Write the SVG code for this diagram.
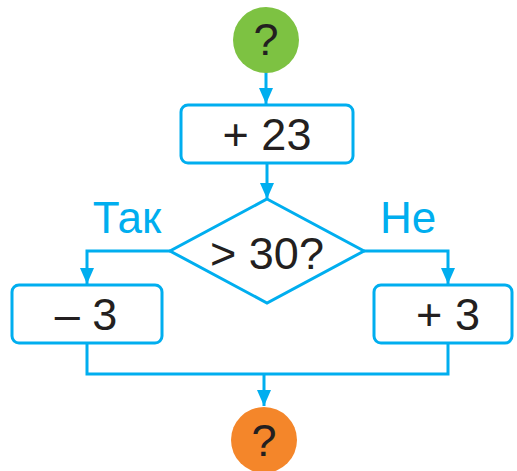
<svg xmlns="http://www.w3.org/2000/svg" width="517" height="471" viewBox="0 0 517 471">
<style>
.box{fill:#fff;stroke:#00aeef;stroke-width:3}
.ln{fill:none;stroke:#00aeef;stroke-width:3}
.t{font-family:"Liberation Sans",Arial,sans-serif;font-size:45px;fill:#231f20;text-anchor:middle}
.lbl{font-family:"Liberation Sans",Arial,sans-serif;font-size:44px;fill:#00aeef;text-anchor:middle}
</style>
<defs>
<marker id="ah" viewBox="0 0 16 14" refX="16" refY="7" markerWidth="16" markerHeight="14" markerUnits="userSpaceOnUse" orient="auto">
<path d="M0,0 L16,7 L0,14 Z" fill="#00aeef"/>
</marker>
</defs>
<g id="connectors">
<line class="ln" x1="266" y1="72" x2="266" y2="104" marker-end="url(#ah)"/>
<line class="ln" x1="267" y1="163" x2="267" y2="199" marker-end="url(#ah)"/>
<polyline class="ln" points="170,251 87,251 87,284" marker-end="url(#ah)"/>
<polyline class="ln" points="364,251 448,251 448,284" marker-end="url(#ah)"/>
<polyline class="ln" points="87,343 87,374 448,374 448,343"/>
<line class="ln" x1="264" y1="374" x2="264" y2="406" marker-end="url(#ah)"/>
</g>
<g id="start">
<circle cx="266" cy="40" r="33" fill="#7dc242"/>
<text class="t" x="266" y="55">?</text>
</g>
<g id="add23">
<rect class="box" x="181" y="105" width="172" height="58" rx="7"/>
<text class="t" x="267" y="150">+ 23</text>
</g>
<g id="decision">
<polygon class="box" points="267,199 364,251 267,303 170,251"/>
<text class="t" x="267" y="269">&gt; 30?</text>
</g>
<g id="label-yes">
<text class="lbl" x="127" y="233">Так</text>
</g>
<g id="label-no">
<text class="lbl" x="408" y="233">Не</text>
</g>
<g id="minus3">
<rect class="box" x="12" y="285" width="150" height="58" rx="7"/>
<text class="t" x="86" y="330">– 3</text>
</g>
<g id="plus3">
<rect class="box" x="374" y="285" width="138" height="58" rx="7"/>
<text class="t" x="448" y="330">+ 3</text>
</g>
<g id="end">
<circle cx="264" cy="440" r="33" fill="#f4862a"/>
<text class="t" x="264" y="456">?</text>
</g>
</svg>
